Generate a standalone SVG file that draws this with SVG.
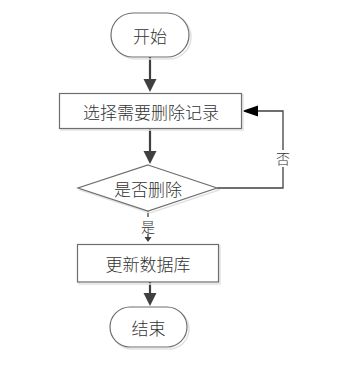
<svg xmlns="http://www.w3.org/2000/svg" width="357" height="367" viewBox="0 0 357 367">
<style>
.shape{fill:#ffffff;stroke:#6e6e6e;stroke-width:1.2}
.shadow{fill:none;stroke:#e2e2e2;stroke-width:1.5}
.t{font-family:"Noto Sans CJK SC","Liberation Sans",sans-serif;font-size:17px;font-weight:300;fill:#333;text-anchor:middle;dominant-baseline:central}
.lbl{font-family:"Noto Sans CJK SC","Liberation Sans",sans-serif;font-size:14px;font-weight:300;fill:#333;text-anchor:middle;dominant-baseline:central}
.conn{fill:none;stroke:#404040;stroke-width:2.2}
.thin{fill:none;stroke:#404040;stroke-width:1.3}
.head{fill:#404040}
</style>
<rect width="357" height="367" fill="#ffffff"/>
<g id="connectors">
<path class="conn" d="M150,57 V80"/><path class="head" d="M143.5,79 L156.5,79 L150,92 Z"/>
<path class="conn" d="M150,129 V152"/><path class="head" d="M143.5,151 L156.5,151 L150,164 Z"/>
<path class="thin" d="M148,211 V238"/><path class="head" d="M144.5,237 L151.5,237 L148,242 Z"/>
<path class="conn" d="M150,282 V294"/><path class="head" d="M143.5,293 L156.5,293 L150,306 Z"/>
<path class="thin" d="M217,188 H283 V111 H256"/><path d="M258,105.5 L258,116.5 L242,111 Z" fill="#000"/>
<rect x="140" y="217" width="16" height="17" fill="#fff"/>
<text class="lbl" x="148" y="226">是</text>
<rect x="276" y="150" width="14" height="17" fill="#fff"/>
<text class="lbl" x="283" y="158">否</text>
</g>
<g id="start">
<rect class="shadow" x="113" y="15" width="78" height="44" rx="22"/>
<rect class="shape" x="111" y="13" width="78" height="44" rx="22"/>
<text class="t" x="150" y="35">开始</text>
</g>
<g id="select">
<rect class="shadow" x="61" y="95" width="182" height="35"/>
<rect class="shape" x="59.5" y="93.5" width="182" height="35"/>
<text class="t" x="151" y="111">选择需要删除记录</text>
</g>
<g id="decision">
<polygon class="shadow" points="150,167 219,190 150,213 80,190"/>
<polygon class="shape" points="148,165 217,188 148,211 78,188"/>
<text class="t" x="148" y="188">是否删除</text>
</g>
<g id="update">
<rect class="shadow" x="79" y="246" width="141" height="38"/>
<rect class="shape" x="77.5" y="244.5" width="141" height="37.5"/>
<text class="t" x="148" y="263">更新数据库</text>
</g>
<g id="end">
<rect class="shadow" x="112" y="309" width="77" height="40" rx="20"/>
<rect class="shape" x="110" y="307" width="77" height="40" rx="20"/>
<text class="t" x="148.5" y="327">结束</text>
</g>
</svg>
